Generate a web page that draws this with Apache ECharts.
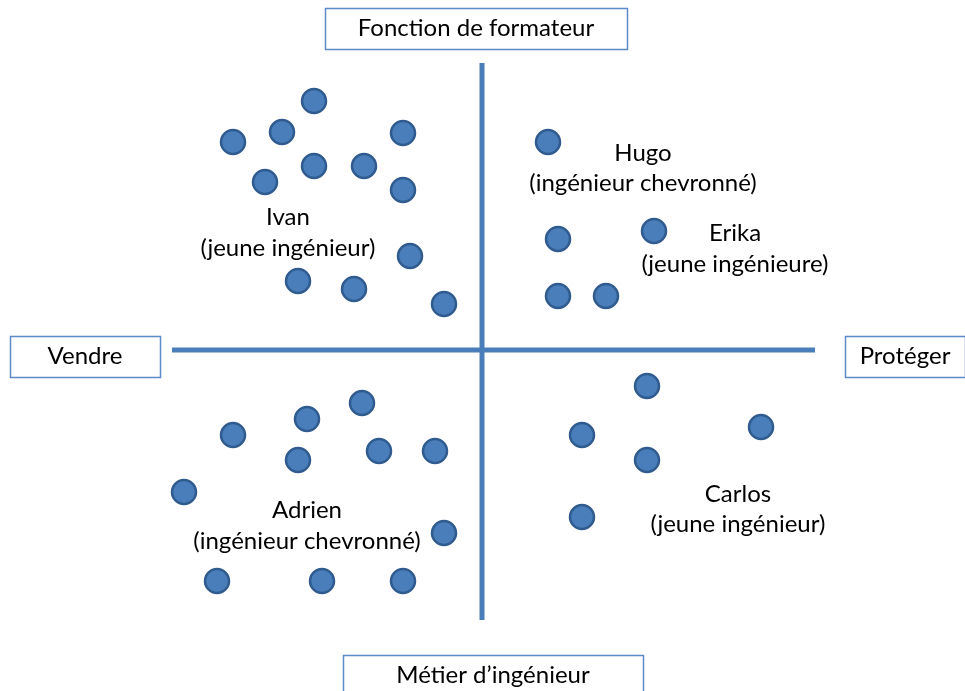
<!DOCTYPE html>
<html><head><meta charset="utf-8">
<script src="https://cdn.jsdelivr.net/npm/echarts@6/dist/echarts.min.js"></script>
<style>html,body{margin:0;padding:0;background:#fff}#c{width:965px;height:691px}</style>
</head><body><div id="c"></div>
<script>
// Coordinates: horizontal = Vendre (−) … Protéger (+); vertical = Métier d'ingénieur (−) … Fonction de formateur (+)
const ivanPoints = [[-168,249],[-249,208],[-200,218],[-79,217],[-168,184],[-118,184],[-217,168],[-79,160],[-72,94],[-184,69],[-128,61],[-38,46]];
const hugoErikaPoints = [[66,208],[76,111],[172,119],[76,54],[124,54]];
const adrienPoints = [[-120,-53],[-175,-69],[-249,-85],[-103,-101],[-47,-101],[-184,-110],[-298,-142],[-38,-183],[-265,-231],[-160,-231],[-79,-231]];
const carlosPoints = [[165,-36],[279,-77],[100,-85],[165,-110],[100,-167]];

const nameLabels = ['Ivan','(jeune ingénieur)','Hugo','(ingénieur chevronné)','Erika','(jeune ingénieure)','Adrien','(ingénieur chevronné)','Carlos','(jeune ingénieur)'];
const nameLabelPos = [[-194,133],[-194,102],[161,197],[161,167],[253,117],[253,86],[-175,-160],[-175,-191],[256,-144],[256,-174]];

const axisTitles = ['Fonction de formateur','Vendre','Protéger','Métier d’ingénieur'];
const axisTitlePos = [[-6,322],[-397,-6],[423,-6],[11,-325]];
const axisTitleBox = [[302,41],[150,41],[120,41],[300,41]];

const hAxisLine = [[-310,0],[333,0]];
const vAxisLine = [[0,287],[0,-270]];

const blue = '#4a7ebb';
const font = 'Lato';
const fs = 24;
const pointStyle = {color: blue, borderColor: '#2f5b8e', borderWidth: 2.5, opacity: 1};

const chart = echarts.init(document.getElementById('c'));
chart.setOption({
  animation: false,
  grid: {left: 0, right: 0, top: 0, bottom: 0},
  xAxis: {type: 'value', min: -482, max: 483, show: false},
  yAxis: {type: 'value', min: -341, max: 350, show: false},
  series: [
    {type: 'line', data: hAxisLine, symbol: 'none', lineStyle: {color: blue, width: 5}, z: 1},
    {type: 'line', data: vAxisLine, symbol: 'none', lineStyle: {color: blue, width: 5}, z: 1},
    {type: 'scatter', data: ivanPoints, symbolSize: 24, itemStyle: pointStyle, z: 3},
    {type: 'scatter', data: hugoErikaPoints, symbolSize: 24, itemStyle: pointStyle, z: 3},
    {type: 'scatter', data: adrienPoints, symbolSize: 24, itemStyle: pointStyle, z: 3},
    {type: 'scatter', data: carlosPoints, symbolSize: 24, itemStyle: pointStyle, z: 3},
    {type: 'custom', z: 4,
      data: nameLabelPos.map((p, i) => ({value: p, name: nameLabels[i]})),
      renderItem: (params, api) => {
        const c = api.coord([api.value(0), api.value(1)]);
        return {type: 'text', x: c[0], y: c[1],
          style: {text: nameLabels[params.dataIndex], fill: '#000', font: fs + 'px ' + font, align: 'center', verticalAlign: 'middle'}};
      }
    },
    {type: 'custom', z: 5,
      data: axisTitlePos,
      renderItem: (params, api) => {
        const i = params.dataIndex;
        const c = api.coord([api.value(0), api.value(1)]);
        const w = axisTitleBox[i][0], h = axisTitleBox[i][1];
        return {type: 'group', children: [
          {type: 'rect', shape: {x: Math.round(c[0] - w / 2) + 0.5, y: Math.round(c[1] - h / 2) + 0.5, width: w, height: h},
            style: {fill: '#fff', stroke: '#5b8ac6', lineWidth: 1.5}},
          {type: 'text', x: c[0], y: c[1],
            style: {text: axisTitles[i], fill: '#000', font: fs + 'px ' + font, align: 'center', verticalAlign: 'middle'}}
        ]};
      }
    }
  ]
});
</script></body></html>
